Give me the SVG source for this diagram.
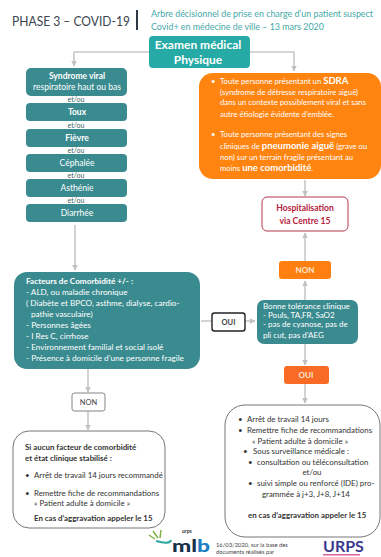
<svg xmlns="http://www.w3.org/2000/svg" width="381" height="557" viewBox="0 0 381 557">
<style>
text{font-family:"Lato","Open Sans","Liberation Sans",sans-serif}
.c{text-anchor:middle}
.b{font-weight:700}
.w{fill:#fff}
.sym{fill:#3a8b8f}
.sym-t{font-size:8.5px;fill:#fff}
.et{font-size:7px;fill:#3f5f66}
.o{font-size:7.700px;fill:#fff}
.big{font-size:9.500px;font-weight:700;fill:#fff}
.f{font-size:8.200px;fill:#fff}
.k{font-size:7.900px;fill:#333}
.con{fill:none;stroke:#c8c8c8;stroke-width:1.6}
</style>
<defs>
<marker id="a" viewBox="0 0 6 6" refX="5.5" refY="3" markerWidth="3.4" markerHeight="3.4" orient="auto"><path d="M0 0L6 3L0 6z" fill="#c0c0c0"/></marker>
</defs>
<rect width="381" height="557" fill="#fff"/>
<g id="title">
<text x="12" y="26" font-size="13" fill="#3b4650" textLength="118" lengthAdjust="spacingAndGlyphs">PHASE 3 – COVID-19</text>
<rect x="136" y="10" width="2" height="20" fill="#2f3a44"/>
<text x="151" y="17" font-size="8.900" fill="#45a9a8">Arbre décisionnel de prise en charge d’un patient suspect</text>
<text x="151" y="30" font-size="8.900" fill="#45a9a8">Covid+ en médecine de ville – 13 mars 2020</text>
</g>
<g id="connectors" class="con">
<path d="M149 52H74V66" marker-end="url(#a)"/>
<path d="M250 52H294V71" marker-end="url(#a)"/>
<path d="M75 225V270" marker-end="url(#a)"/>
<path d="M88 369V392" marker-end="url(#a)"/>
<path d="M88 411V430" marker-end="url(#a)"/>
<path d="M305 180V196" marker-end="url(#a)"/>
<path d="M305 261V233" marker-end="url(#a)"/>
<path d="M305 300V281" marker-end="url(#a)"/>
<path d="M305 344V365" marker-end="url(#a)"/>
<path d="M305 384V403" marker-end="url(#a)"/>
<path d="M201 321H212"/>
<path d="M245 321H255" marker-end="url(#a)"/>
</g>
<g id="examen">
<rect x="149" y="36" width="101" height="32" rx="4" fill="#26aaa5"/>
<text x="198" y="49" class="c b" font-size="12" fill="#fff">Examen médical</text>
<text x="198" y="64" class="c b" font-size="12" fill="#fff">Physique</text>
</g>
<g id="syndrome">
<rect x="26" y="68" width="101" height="28" rx="5" class="sym"/>
<text x="77" y="79" class="c b sym-t">Syndrome viral</text>
<text x="77" y="90" class="c sym-t">respiratoire haut ou bas</text>
</g>
<g id="toux"><rect x="26" y="103" width="101" height="18" rx="4" class="sym"/><text x="77" y="115" class="c b sym-t">Toux</text></g>
<g id="fievre"><rect x="26" y="129" width="101" height="18" rx="4" class="sym"/><text x="77" y="141" class="c b sym-t">Fièvre</text></g>
<g id="cephalee"><rect x="26" y="154" width="101" height="18" rx="4" class="sym"/><text x="77" y="166" class="c sym-t">Céphalée</text></g>
<g id="asthenie"><rect x="26" y="179" width="101" height="18" rx="4" class="sym"/><text x="77" y="191" class="c sym-t">Asthénie</text></g>
<g id="diarrhee"><rect x="26" y="204" width="101" height="18" rx="4" class="sym"/><text x="77" y="216" class="c sym-t">Diarrhée</text></g>
<g id="etou">
<text x="76" y="102" class="c et">et/ou</text>
<text x="76" y="127.500" class="c et">et/ou</text>
<text x="76" y="153" class="c et">et/ou</text>
<text x="76" y="177.500" class="c et">et/ou</text>
<text x="76" y="203" class="c et">et/ou</text>
</g>
<g id="orange">
<rect x="199" y="73" width="182" height="106" rx="14" fill="#ff8410"/>
<text x="211" y="84" class="o">•</text>
<text x="220" y="84" class="o">Toute personne présentant un <tspan class="big">SDRA</tspan></text>
<text x="220" y="95" class="o">(syndrome de détresse respiratoire aiguë)</text>
<text x="220" y="105" class="o">dans un contexte possiblement viral et sans</text>
<text x="220" y="117" class="o">autre étiologie évidente d’emblée.</text>
<text x="211" y="137" class="o">•</text>
<text x="220" y="137" class="o">Toute personne présentant des signes</text>
<text x="220" y="149" class="o">cliniques de <tspan class="big">pneumonie aiguë</tspan> (grave ou</text>
<text x="220" y="160" class="o">non) sur un terrain fragile présentant au</text>
<text x="220" y="171" class="o">moins <tspan class="big">une comorbidité</tspan>.</text>
</g>
<g id="hospitalisation">
<rect x="262" y="197" width="86" height="34" rx="5" fill="#fff" stroke="#b8394f" stroke-width="1"/>
<text x="305" y="211" class="c b" font-size="8.600" fill="#b5203c">Hospitalisation</text>
<text x="305" y="224" class="c b" font-size="8.600" fill="#b5203c">via Centre 15</text>
</g>
<g id="non-orange">
<rect x="279" y="261" width="52" height="18" rx="3" fill="#ff7f11"/>
<text x="305" y="273" class="c b" font-size="8" fill="#ffe9d0">NON</text>
</g>
<g id="facteurs">
<rect x="14" y="272" width="186" height="97" rx="13" fill="#3a8b8f"/>
<text x="26" y="284" class="f b">Facteurs de Comorbidité +/- :</text>
<text x="26" y="295" class="f">- ALD, ou maladie chronique</text>
<text x="26" y="306" class="f"> ( Diabète et BPCO, asthme, dialyse, cardio-</text>
<text x="31" y="317" class="f">pathie vasculaire)</text>
<text x="26" y="328" class="f">- Personnes âgées</text>
<text x="26" y="339" class="f">- I Res C, cirrhose</text>
<text x="26" y="350" class="f">- Environnement familial et social isolé</text>
<text x="26" y="361" class="f">- Présence à domicile d’une personne fragile</text>
</g>
<g id="oui-black">
<rect x="212" y="313" width="33" height="18" rx="2.500" fill="#fff" stroke="#222" stroke-width="1.400"/>
<text x="228.500" y="325" class="c b" font-size="7.500" fill="#444">OUI</text>
</g>
<g id="bonne">
<rect x="257" y="300" width="101" height="44" rx="7" fill="#3a8b8f"/>
<text x="263" y="309" font-size="8" class="w">Bonne tolérance clinique</text>
<text x="263" y="318" font-size="8" class="w">- Pouls, TA,FR, SaO2</text>
<text x="263" y="327" font-size="8" class="w">- pas de cyanose, pas de</text>
<text x="263" y="338" font-size="8" class="w">pli cut, pas d’AEG</text>
</g>
<g id="oui-orange">
<rect x="284" y="366" width="45" height="18" rx="3" fill="#f96a25"/>
<text x="306" y="378" class="c b" font-size="8" fill="#ffe5d5">OUI</text>
</g>
<g id="non-grey">
<rect x="72" y="393" width="33" height="18" rx="2.500" fill="#fff" stroke="#777" stroke-width="0.900"/>
<text x="88.500" y="405" class="c" font-size="7.500" fill="#444">NON</text>
</g>
<g id="retour-domicile">
<rect x="13" y="431" width="152" height="97" rx="16" fill="#fff" stroke="#666" stroke-width="0.900"/>
<text x="25" y="450" class="k b">Si aucun facteur de comorbidité</text>
<text x="25" y="461" class="k b">et état clinique stabilisé :</text>
<text x="25" y="478" class="k">•</text>
<text x="34" y="478" class="k">Arrêt de travail 14 jours recommandé</text>
<text x="25" y="496" class="k">•</text>
<text x="34" y="496" class="k">Remettre fiche de recommandations</text>
<text x="34" y="506" class="k">« Patient adulte à domicile »</text>
<text x="34" y="521" class="k b">En cas d’aggravation appeler le 15</text>
</g>
<g id="surveillance">
<rect x="225" y="405" width="155" height="132" rx="20" fill="#fff" stroke="#666" stroke-width="0.900"/>
<text x="238" y="422" class="k">•</text>
<text x="247" y="422" class="k">Arrêt de travail 14 jours</text>
<text x="238" y="433" class="k">•</text>
<text x="247" y="433" class="k">Remettre fiche de recommandations</text>
<text x="252" y="444" class="k">« Patient adulte à domicile »</text>
<text x="243" y="454" class="k">•</text>
<text x="253" y="454" class="k">Sous surveillance médicale :</text>
<text x="248" y="465" class="k">•</text>
<text x="257" y="465" class="k">consultation ou téléconsultation</text>
<text x="312" y="475" class="k c">et/ou</text>
<text x="248" y="486" class="k">•</text>
<text x="257" y="486" class="k">suivi simple ou renforcé (IDE) pro-</text>
<text x="262" y="497" class="k">grammée à j+3, J+8, J+14</text>
<text x="248" y="518" class="k b">en cas d’aggravation appeler le 15</text>
</g>
<g id="footer">
<path d="M149 535l6 4M153 531l5 7M161 530l-1 8" stroke="#7fb23f" stroke-width="1.500" fill="none"/>
<path d="M156 541q14 4 15-1" stroke="#2aa6a0" stroke-width="2" fill="none"/>
<text x="182" y="533" font-size="5" font-weight="700" fill="#333">urps</text>
<text x="172" y="552" font-size="17" font-weight="900" fill="#16324a" textLength="38" lengthAdjust="spacingAndGlyphs">ml<tspan fill="#1f7fc4">b</tspan></text>
<text x="216" y="547" font-size="5.800" fill="#444">16/03/2020, sur la base des</text>
<text x="216" y="554" font-size="5.800" fill="#444">documents réalisés par</text>
<text x="323" y="552" font-size="16" font-weight="700" fill="#3a3a8c">URPS</text>
<rect x="323" y="554" width="37" height="1.500" fill="#d9639b"/>
</g>
</svg>
